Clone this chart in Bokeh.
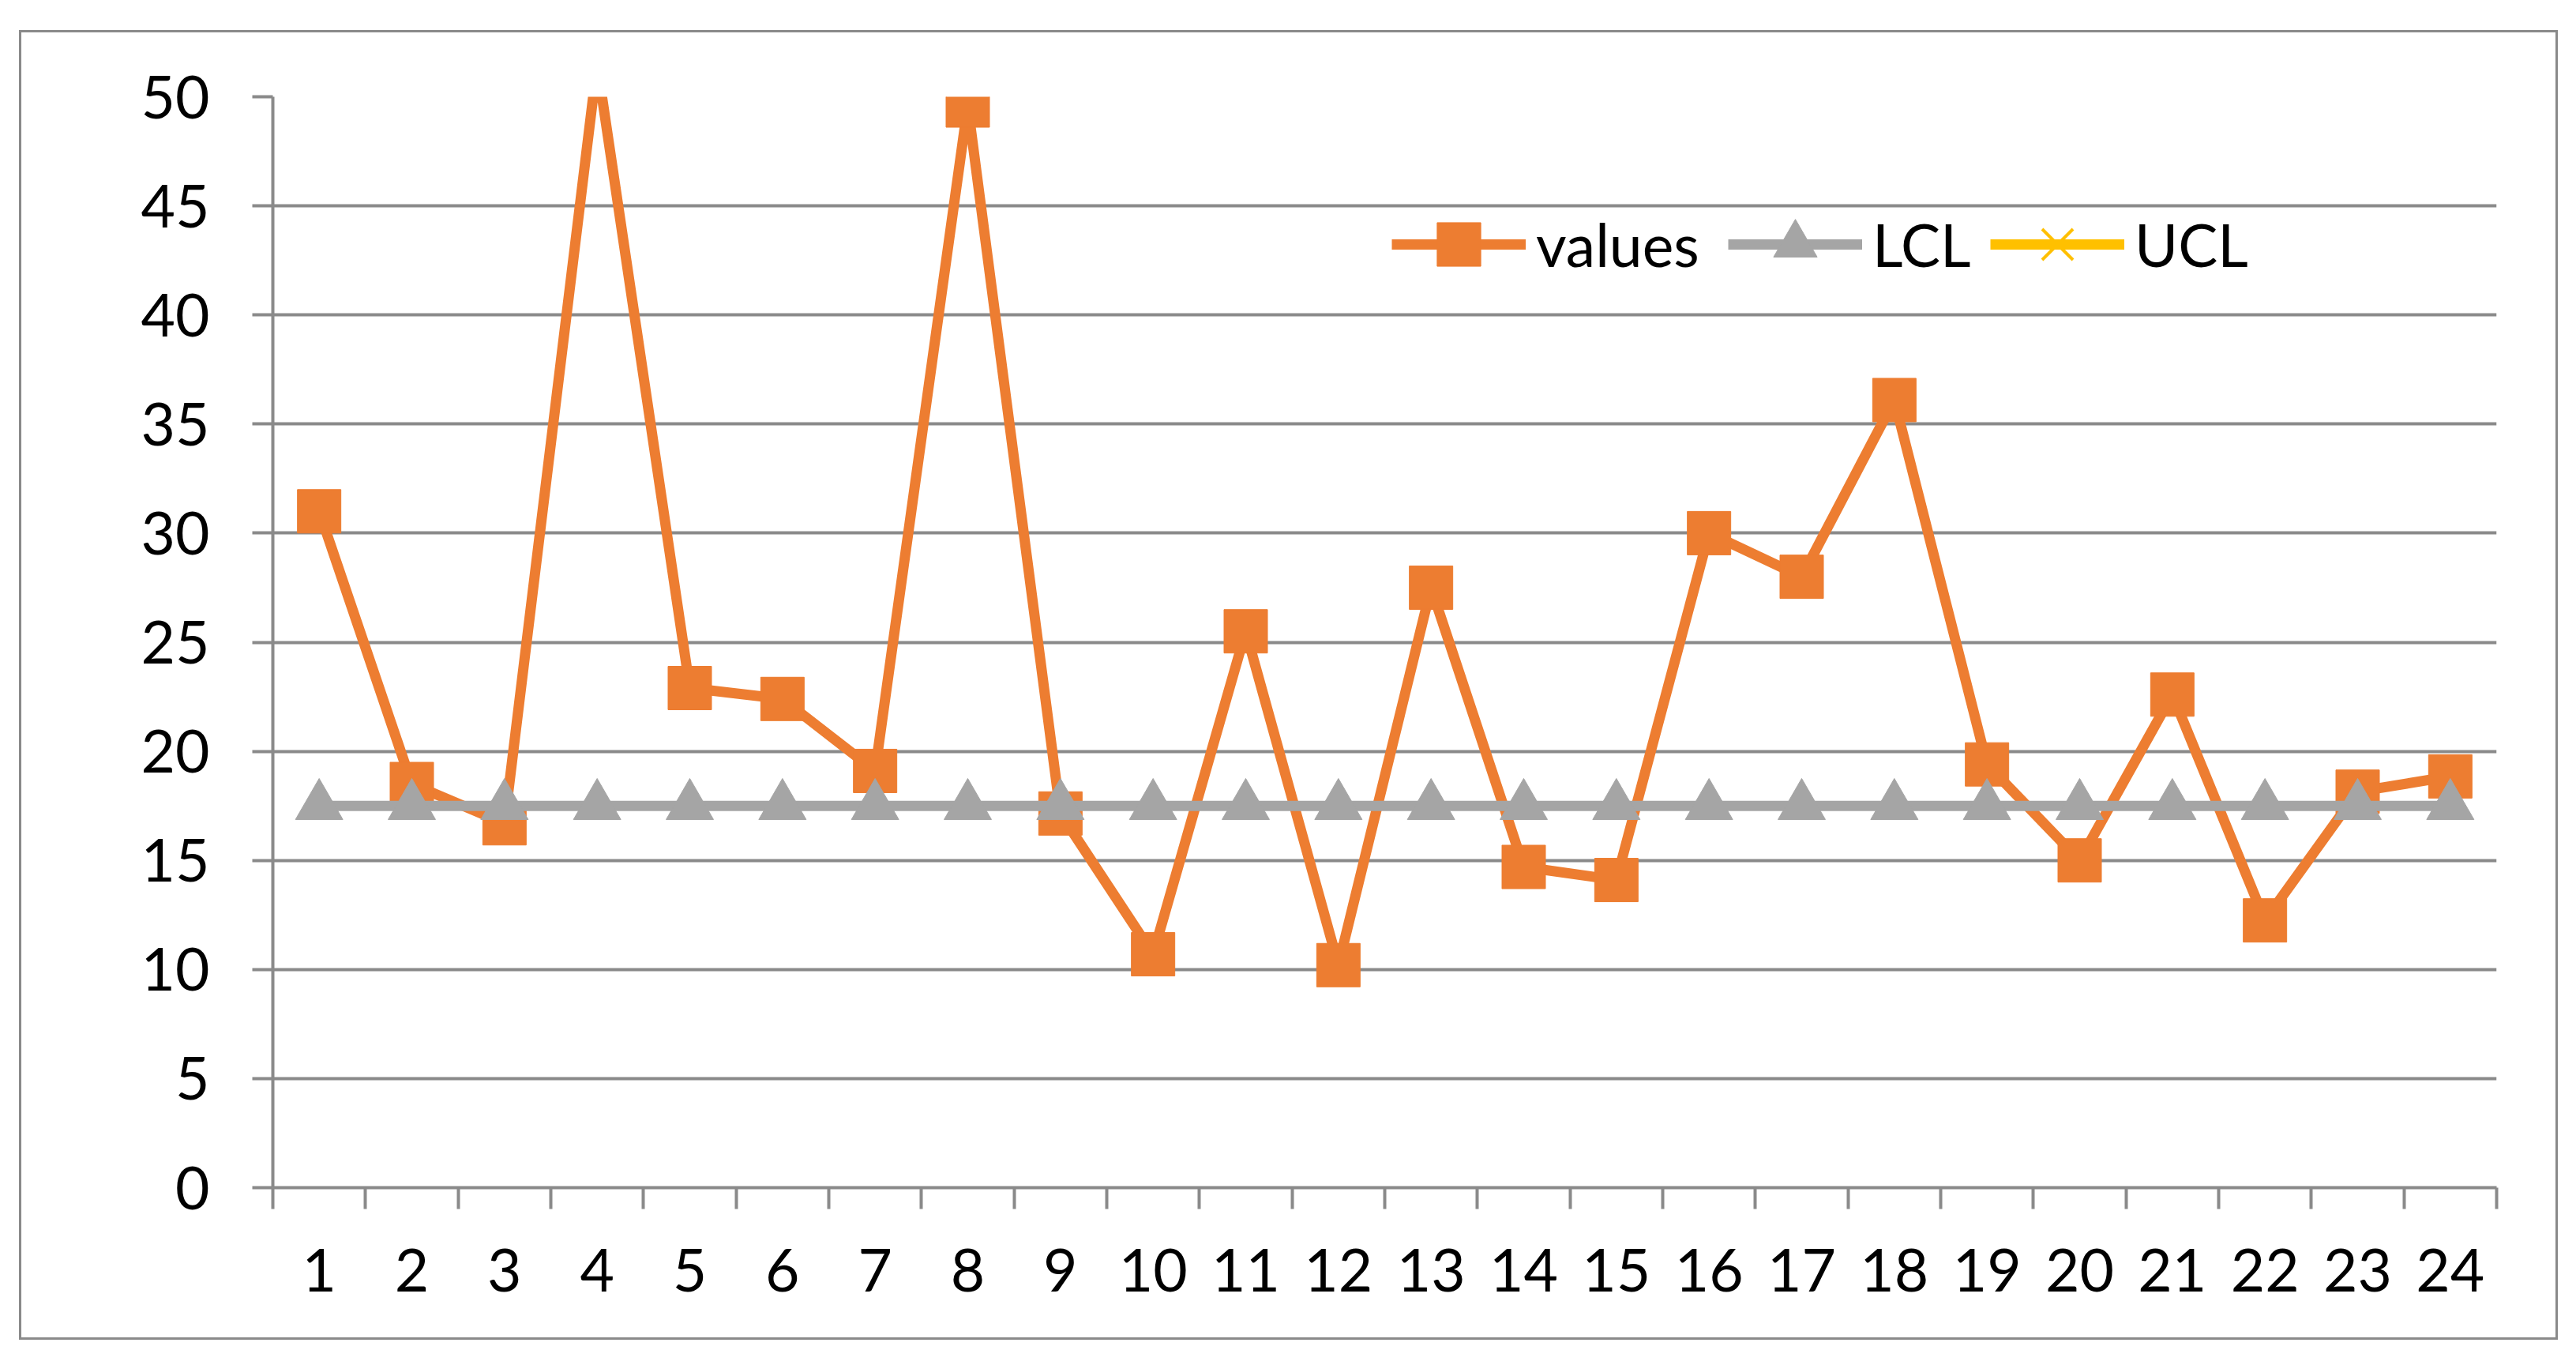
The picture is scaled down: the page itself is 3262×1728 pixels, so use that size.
from bokeh.plotting import figure
from bokeh.models import FixedTicker, Legend, LegendItem, Range1d
from bokeh.layouts import column
from bokeh.embed import file_html
from bokeh.resources import INLINE

# ---- data ----
categories = ["1", "2", "3", "4", "5", "6", "7", "8", "9", "10", "11", "12",
              "13", "14", "15", "16", "17", "18", "19", "20", "21", "22", "23", "24"]
values = [31.0, 18.5, 16.7, 51.5, 22.9, 22.4, 19.1, 49.6, 17.15, 10.7, 25.5, 10.2,
          27.5, 14.7, 14.1, 30.0, 28.0, 36.1, 19.4, 15.0, 22.6, 12.25, 18.15, 18.85]
lcl = [17.5, 17.5, 17.5, 17.5, 17.5, 17.5, 17.5, 17.5, 17.5, 17.5, 17.5, 17.5,
       17.5, 17.5, 17.5, 17.5, 17.5, 17.5, 17.5, 17.5, 17.5, 17.5, 17.5, 17.5]
# UCL is not visible inside the plotted range: legend entry only
ucl = [None, None, None, None, None, None, None, None, None, None, None, None,
       None, None, None, None, None, None, None, None, None, None, None, None]
y_ticks = [0, 5, 10, 15, 20, 25, 30, 35, 40, 45, 50]

FONT = "Lato"
GRID = "#8a8a8a"
ORANGE = "#ED7D31"
GRAY = "#A5A5A5"
YELLOW = "#FFC000"

n = len(categories)
xs = list(range(1, n + 1))
ucl_f = [float("nan") if v is None else v for v in ucl]

p = figure(width=3209, height=1652, output_backend="svg", toolbar_location=None,
           x_range=Range1d(0.5, n + 0.5), y_range=Range1d(0, 50),
           min_border_left=318, min_border_right=75, min_border_top=81, min_border_bottom=190)
p.outline_line_color = None
p.background_fill_color = "white"
p.border_fill_color = "white"

# axes
p.xaxis.ticker = FixedTicker(ticks=xs, minor_ticks=[i + 0.5 for i in range(0, n + 1)])
p.xaxis.major_label_overrides = {x: c for x, c in zip(xs, categories)}
p.xaxis.major_tick_line_color = None
p.xaxis.major_tick_out = 0
p.xaxis.major_tick_in = 0
p.xaxis.minor_tick_line_color = GRID
p.xaxis.minor_tick_line_width = 4
p.xaxis.minor_tick_out = 27
p.xaxis.minor_tick_in = 0
p.xaxis.axis_line_color = GRID
p.xaxis.axis_line_width = 4
p.xaxis.major_label_standoff = 50

p.yaxis.ticker = FixedTicker(ticks=y_ticks)
p.yaxis.major_tick_line_color = GRID
p.yaxis.major_tick_line_width = 4
p.yaxis.major_tick_out = 26
p.yaxis.major_tick_in = 0
p.yaxis.minor_tick_line_color = None
p.yaxis.axis_line_color = GRID
p.yaxis.axis_line_width = 4
p.yaxis.major_label_standoff = 54

for ax in (p.xaxis[0], p.yaxis[0]):
    ax.major_label_text_font = FONT
    ax.major_label_text_font_size = "75px"
    ax.major_label_text_color = "black"

p.xgrid.grid_line_color = None
p.ygrid.ticker = FixedTicker(ticks=y_ticks)
p.ygrid.grid_line_color = GRID
p.ygrid.grid_line_width = 4

# series
r_vl = p.line(xs, values, line_color=ORANGE, line_width=13)
r_vm = p.scatter(xs, values, marker="square", size=55, fill_color=ORANGE, line_color=ORANGE)
r_ll = p.line(xs, lcl, line_color=GRAY, line_width=13)
r_lm = p.scatter(xs, lcl, marker="triangle", size=60, fill_color=GRAY, line_color=GRAY)
r_ul = p.line(xs, ucl_f, line_color=YELLOW, line_width=13)
r_um = p.scatter(xs, ucl_f, marker="x", size=55, line_color=YELLOW, line_width=4)

items = [("values", [r_vl, r_vm], 1417), ("LCL", [r_ll, r_lm], 1843), ("UCL", [r_ul, r_um], 2175)]
for label, rends, lx in items:
    lg = Legend(items=[LegendItem(label=label, renderers=rends)], location=(lx, 1125),
                orientation="horizontal", glyph_width=170, glyph_height=138,
                label_standoff=13, padding=0, margin=0, spacing=0,
                border_line_color=None, background_fill_alpha=0,
                label_text_font=FONT, label_text_font_size="75px", label_text_color="black")
    p.add_layout(lg, "center")

# outer chart-area border
layout = column(p, styles={"border": "3px solid #8a8a8a"}, margin=(38, 0, 0, 24))

open("out.html", "w").write(file_html(layout, INLINE))
